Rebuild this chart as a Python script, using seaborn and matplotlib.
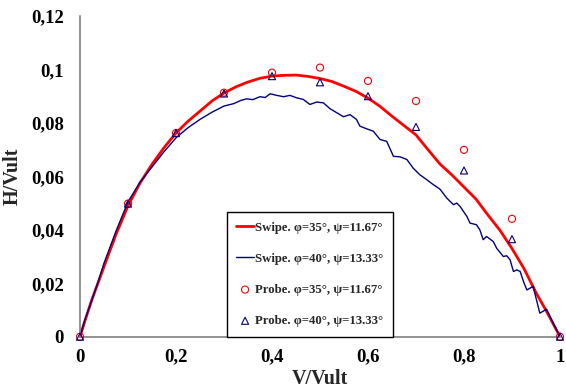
import matplotlib
matplotlib.use("Agg")
import matplotlib.pyplot as plt
import seaborn as sns
import pandas as pd
from matplotlib.ticker import FuncFormatter

# ---- data ----
red_v = [0, 0.01, 0.025, 0.05, 0.075, 0.1, 0.125, 0.15, 0.175, 0.2, 0.225, 0.25,
         0.275, 0.3, 0.325, 0.35, 0.375, 0.4, 0.425, 0.45, 0.475, 0.5, 0.525, 0.55,
         0.575, 0.6, 0.625, 0.65, 0.675, 0.7, 0.725, 0.75, 0.775, 0.8, 0.825, 0.85,
         0.875, 0.9, 0.925, 0.95, 0.975, 1.0]
red_h = [0, 0.0058, 0.0140, 0.0262, 0.0383, 0.0490, 0.0575, 0.0645, 0.0707, 0.0762,
         0.0806, 0.0844, 0.0882, 0.0912, 0.0935, 0.0953, 0.0967, 0.0975, 0.0978,
         0.0979, 0.0974, 0.0966, 0.0955, 0.0937, 0.0918, 0.0893, 0.0862, 0.0825,
         0.0790, 0.0755, 0.0700, 0.0646, 0.0605, 0.0560, 0.0515, 0.0455, 0.0398,
         0.0330, 0.0255, 0.0165, 0.0085, 0]

blue_v = [0, 0.01, 0.021, 0.035, 0.05, 0.075, 0.1, 0.125, 0.15, 0.175, 0.2, 0.225,
          0.25, 0.275, 0.3, 0.32, 0.335, 0.347, 0.36, 0.375, 0.386, 0.396, 0.41,
          0.424, 0.4375, 0.451, 0.465, 0.479, 0.493, 0.507, 0.521, 0.535, 0.549,
          0.5625, 0.576, 0.583, 0.597, 0.611, 0.625, 0.639, 0.653, 0.667, 0.681,
          0.694, 0.708, 0.722, 0.736, 0.75, 0.764, 0.778, 0.785, 0.792, 0.806,
          0.8125, 0.826, 0.833, 0.840, 0.847, 0.861, 0.868, 0.882, 0.889, 0.896,
          0.903, 0.910, 0.917, 0.924, 0.931, 0.944, 0.958, 0.972, 0.986, 1.0]
blue_h = [0, 0.0062, 0.0118, 0.0190, 0.0275, 0.0395, 0.0505, 0.0578, 0.0635, 0.0692,
          0.0744, 0.0782, 0.0813, 0.0840, 0.0863, 0.0872, 0.0884, 0.0890, 0.0887,
          0.0898, 0.0895, 0.0909, 0.0903, 0.0898, 0.0903, 0.0894, 0.0888, 0.0869,
          0.0878, 0.0875, 0.0853, 0.0838, 0.0823, 0.0831, 0.0813, 0.0788, 0.0778,
          0.0769, 0.0738, 0.0731, 0.0675, 0.0673, 0.0663, 0.0631, 0.0606, 0.0588,
          0.0569, 0.0552, 0.0519, 0.0494, 0.0500, 0.0487, 0.0450, 0.0425, 0.0419,
          0.0400, 0.0363, 0.0375, 0.0356, 0.0331, 0.0300, 0.0303, 0.0288, 0.0244,
          0.0250, 0.0244, 0.0206, 0.0175, 0.0188, 0.0088, 0.0103, 0.0050, 0]

probe_v = [0, 0.1, 0.2, 0.3, 0.4, 0.5, 0.6, 0.7, 0.8, 0.9, 1.0]
probe35_h = [0, 0.0498, 0.0762, 0.0913, 0.0988, 0.1007, 0.0957, 0.0882, 0.0699, 0.0441, 0]
probe40_h = [0, 0.0498, 0.0762, 0.0910, 0.0975, 0.0952, 0.0900, 0.0785, 0.0622, 0.0365, 0]

labels = ["Swipe. φ=35°, ψ=11.67°", "Swipe. φ=40°, ψ=13.33°",
          "Probe. φ=35°, ψ=11.67°", "Probe. φ=40°, ψ=13.33°"]
x_ticks = [0, 0.2, 0.4, 0.6, 0.8, 1.0]
y_ticks = [0, 0.02, 0.04, 0.06, 0.08, 0.10, 0.12]
x_label = "V/Vult"
y_label = "H/Vult"

RED = "#ff0000"
BLUE = "#000080"

sns.set_style("white")
plt.rcParams["font.family"] = ["Liberation Serif", "DejaVu Serif"]
plt.rcParams["font.weight"] = "bold"

fig = plt.figure(figsize=(5.66, 3.92), dpi=100)
ax = fig.add_axes([80 / 566, (392 - 336.7) / 392, 480 / 566, 320.7 / 392])

sns.lineplot(data=pd.DataFrame({"V": red_v, "H": red_h}), x="V", y="H", ax=ax,
             color=RED, linewidth=2.0, label=labels[0], estimator=None, sort=False)
sns.lineplot(data=pd.DataFrame({"V": blue_v, "H": blue_h}), x="V", y="H", ax=ax,
             color=BLUE, linewidth=1.0, label=labels[1], estimator=None, sort=False)
sns.scatterplot(data=pd.DataFrame({"V": probe_v, "H": probe35_h}), x="V", y="H", ax=ax,
                marker="o", s=26, facecolor="none", edgecolor=RED, linewidth=0.8,
                label=labels[2], clip_on=False, zorder=5)
sns.scatterplot(data=pd.DataFrame({"V": probe_v, "H": probe40_h}), x="V", y="H", ax=ax,
                marker="^", s=26, facecolor="none", edgecolor=BLUE, linewidth=0.8,
                label=labels[3], clip_on=False, zorder=5)

ax.set_xlim(0, 1.0)
ax.set_ylim(0, 0.12)
ax.set_xticks(x_ticks)
ax.set_yticks(y_ticks)
fmt = FuncFormatter(lambda v, p: ("%g" % round(v, 4)).replace(".", ","))
ax.xaxis.set_major_formatter(fmt)
ax.yaxis.set_major_formatter(fmt)

for s in ["top", "right"]:
    ax.spines[s].set_visible(False)
for s in ["left", "bottom"]:
    ax.spines[s].set_color("#808080")
    ax.spines[s].set_linewidth(1.2)

ax.tick_params(axis="both", direction="out", length=3.5, width=1.0, color="#808080",
               labelsize=13.5, labelcolor="black")
ax.tick_params(axis="y", pad=8)
ax.tick_params(axis="x", pad=5)
for t in ax.get_xticklabels() + ax.get_yticklabels():
    t.set_fontweight("bold")

ax.set_xlabel(x_label, fontsize=14.5, fontweight="bold")
ax.set_ylabel(y_label, fontsize=14.5, fontweight="bold")
ax.xaxis.set_label_coords(0.5, -0.102)
ax.yaxis.set_label_coords(-0.119, 0.5)

leg = ax.legend(loc="lower left", bbox_to_anchor=(0.306, 0.0), borderaxespad=0,
                frameon=True, fancybox=False, edgecolor="black", framealpha=1,
                prop={"family": "Liberation Serif", "weight": "bold", "size": 9.2},
                handlelength=1.35, handletextpad=0.1, labelspacing=1.5,
                borderpad=0.75, markerscale=1.0)
leg.get_frame().set_linewidth(1.0)

fig.savefig("out.png", dpi=100)
